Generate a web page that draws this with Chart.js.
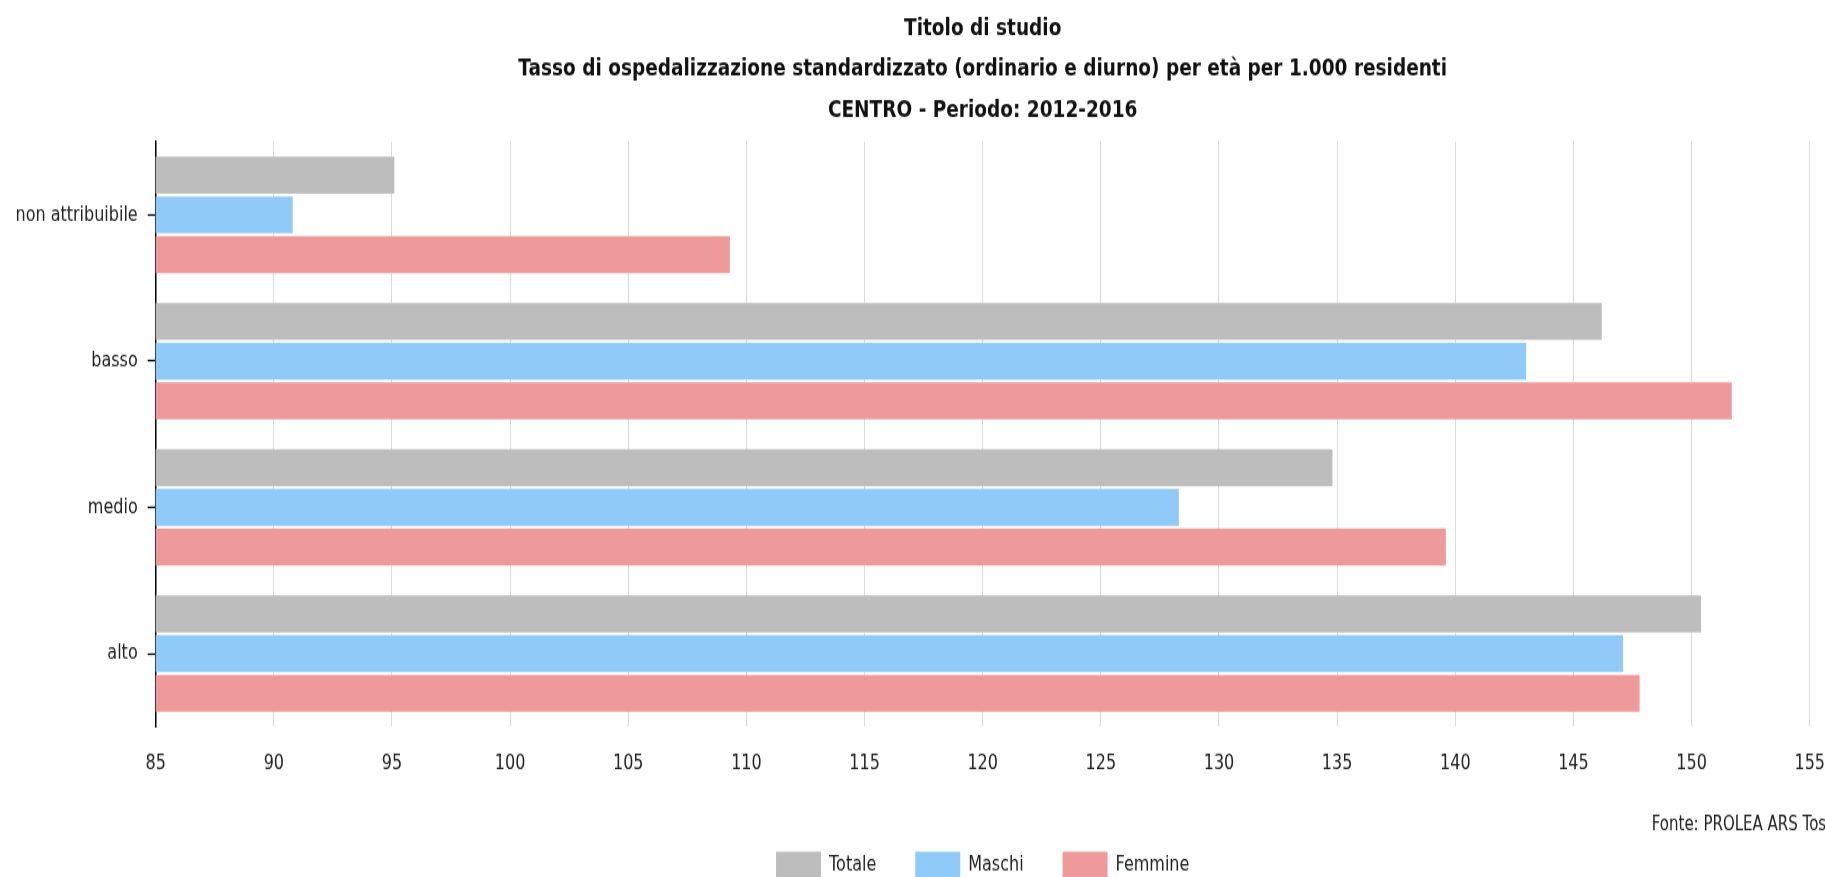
<!DOCTYPE html>
<html lang="it">
<head>
<meta charset="utf-8">
<title>Titolo di studio - Tasso di ospedalizzazione</title>
<script src="https://cdn.jsdelivr.net/npm/chart.js@4/dist/chart.umd.min.js"></script>
<style>
  html, body { margin: 0; padding: 0; background: #fff; }
  #chart { display: block; }
</style>
</head>
<body>
<!-- drawn at 675px tall, shown at 877px (text comes out tall and narrow) -->
<canvas id="chart" width="1825" height="675" style="width:1825px;height:877px"></canvas>
<script>
// categorie e serie (tasso per 1.000 residenti)
const categories = ['non attribuibile', 'basso', 'medio', 'alto'];
const totale  = [95.1, 146.2, 134.8, 150.4];
const maschi  = [90.8, 143.0, 128.3, 147.1];
const femmine = [109.3, 151.7, 139.6, 147.8];

const seriesNames = ['Totale', 'Maschi', 'Femmine'];
const xMin = 85;
const xMax = 155;
const xStep = 5;

const titleLines = [
    'Titolo di studio',
    'Tasso di ospedalizzazione standardizzato (ordinario e diurno) per età per 1.000 residenti',
    'CENTRO - Periodo: 2012-2016'
];
const sourceText = 'Fonte: PROLEA ARS Toscana';

const COLORS = ['#bdbdbd', '#90caf9', '#ef9a9a'];
const FONT = '"DejaVu Sans", "Liberation Sans", sans-serif';

Chart.defaults.font.family = FONT;
Chart.defaults.color = '#222';

// nota "Fonte" sotto l'asse, a destra (esce dal bordo come nell'originale)
const sourceNote = {
    id: 'sourceNote',
    afterDraw(chart) {
        const { ctx, chartArea } = chart;
        ctx.save();
        ctx.font = '15px ' + FONT;
        ctx.fillStyle = '#222';
        ctx.textAlign = 'left';
        ctx.textBaseline = 'middle';
        ctx.fillText(sourceText, chartArea.right - 158, chartArea.bottom + 76);
        ctx.restore();
    }
};

const seriesData = [totale, maschi, femmine];

new Chart(document.getElementById('chart'), {
    type: 'bar',
    data: {
        labels: categories,
        datasets: seriesNames.map((name, i) => ({
            label: name,
            data: seriesData[i],
            backgroundColor: COLORS[i],
            borderWidth: 0,
            categoryPercentage: 0.815,
            barPercentage: 0.93
        }))
    },
    options: {
        indexAxis: 'y',
        responsive: false,
        animation: false,
        devicePixelRatio: 1,
        layout: { padding: { left: 5.5, right: 4, top: 0, bottom: -12 } },
        plugins: {
            title: {
                display: true,
                text: titleLines,
                fullSize: false,
                color: '#111',
                font: { size: 18.5, weight: 'bold', lineHeight: 1.714 },
                padding: { top: 6, bottom: 8 }
            },
            legend: {
                position: 'bottom',
                fullSize: false,
                labels: {
                    boxWidth: 45,
                    boxHeight: 21.5,
                    padding: 39,
                    color: '#222',
                    font: { size: 16 }
                }
            },
            tooltip: { enabled: false }
        },
        scales: {
            x: {
                min: xMin,
                max: xMax,
                border: { display: false },
                // spazio sotto l'asse dato da tick invisibili, non dal padding
                // (il padding dei tick allargherebbe anche i margini laterali)
                grid: {
                    color: '#dcdcdc',
                    lineWidth: 1,
                    drawTicks: true,
                    tickLength: 19,
                    tickColor: 'rgba(0,0,0,0)'
                },
                ticks: {
                    stepSize: xStep,
                    autoSkip: false,
                    maxRotation: 0,
                    padding: 0,
                    color: '#222',
                    font: { size: 16 }
                },
                // lascia posto alla riga "Fonte" tra asse e legenda
                afterFit(scale) {
                    scale.height += 19;
                }
            },
            y: {
                border: { display: true, color: '#000', width: 1.5 },
                grid: {
                    offset: false,
                    drawOnChartArea: false,
                    drawTicks: true,
                    tickLength: 8,
                    tickColor: '#000',
                    tickWidth: 1.3
                },
                ticks: {
                    padding: 10,
                    color: '#222',
                    font: { size: 16 }
                }
            }
        }
    },
    plugins: [sourceNote]
});
</script>
</body>
</html>
